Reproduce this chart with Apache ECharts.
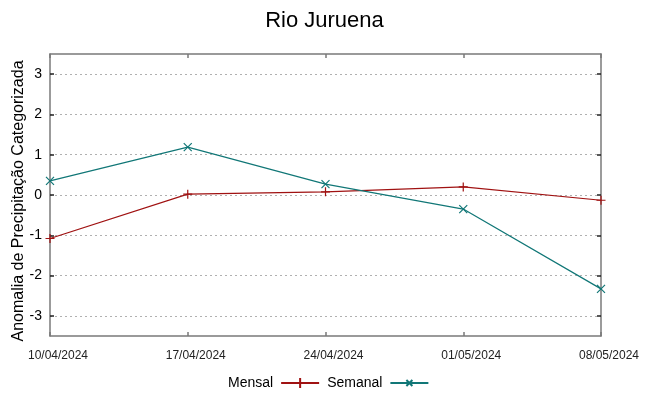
<!DOCTYPE html>
<html>
<head>
<meta charset="utf-8">
<script src="https://cdn.jsdelivr.net/npm/echarts@6/dist/echarts.min.js"></script>
<style>
html,body{margin:0;padding:0;background:#fff;}
#chart{width:649px;height:396px;}
</style>
</head>
<body>
<div id="chart"></div>
<script>
const categories = ['10/04/2024', '17/04/2024', '24/04/2024', '01/05/2024', '08/05/2024'];
const mensal = [-1.08, 0.02, 0.08, 0.20, -0.13];
const semanal = [0.35, 1.19, 0.27, -0.35, -2.33];
const yTicks = [-3, -2, -1, 0, 1, 2, 3];

const FONT = 'Liberation Sans, Arial, sans-serif';
const frameColor = '#7a7a7a';
const plusPath = 'path://M0,-5 L0,5 M-5,0 L5,0';
const crossPath = 'path://M-4,-4 L4,4 M-4,4 L4,-4';

const chart = echarts.init(document.getElementById('chart'), null, {renderer: 'canvas'});
const baseX = {
  type: 'category',
  data: categories,
  boundaryGap: false,
  axisLine: {show: true, onZero: false, lineStyle: {color: frameColor, width: 1.5}},
  axisTick: {show: true, inside: true, length: 4, lineStyle: {color: frameColor, width: 1.5}},
  splitLine: {show: false}
};
const baseY = {
  type: 'value',
  min: -3.5,
  max: 3.5,
  interval: 1,
  axisLine: {show: true, onZero: false, lineStyle: {color: frameColor, width: 1.5}},
  axisTick: {show: true, inside: true, length: 4, lineStyle: {color: '#222', width: 1.5},
    customValues: yTicks},
};
chart.setOption({
  animation: false,
  backgroundColor: '#fff',
  title: {
    text: 'Rio Juruena',
    left: 'center',
    top: 5,
    textStyle: {fontFamily: FONT, fontSize: 22, fontWeight: 'normal', color: '#000'}
  },
  grid: {left: 50, right: 48, top: 54, bottom: 60, containLabel: false, outerBoundsMode: 'none'},
  legend: {
    bottom: 1,
    left: 223,
    align: 'right',
    itemWidth: 38,
    itemHeight: 10,
    itemGap: 7,
    textStyle: {fontFamily: FONT, fontSize: 14, color: '#000', padding: [0, 3, 0, 0]},
    data: [
      {name: 'Mensal', icon: 'path://M0,5 L38,5 M19,0 L19,10'},
      {name: 'Semanal', icon: 'path://M0,5 L38,5 M16,2 L22,8 M16,8 L22,2'}
    ]
  },
  xAxis: [
    Object.assign({}, baseX, {
      position: 'bottom',
      axisLabel: {show: true, fontFamily: FONT, fontSize: 12, color: '#222', margin: 14,
        padding: [0, 0, 0, 16],
        showMinLabel: true, showMaxLabel: true, interval: 0}
    }),
    Object.assign({}, baseX, {
      position: 'top',
      axisLabel: {show: false}
    })
  ],
  yAxis: [
    Object.assign({}, baseY, {
      position: 'left',
      name: 'Anomalia de Precipitação Categorizada',
      nameLocation: 'middle',
      nameGap: 23,
      nameMoveOverlap: false,
      nameTextStyle: {fontFamily: FONT, fontSize: 16, color: '#000', padding: [0, 12, 0, 0]},
      axisLabel: {
        show: true, fontFamily: FONT, fontSize: 14, color: '#000', margin: 8,
        customValues: yTicks
      },
      splitLine: {show: true, lineStyle: {color: '#b0b0b0', type: [2, 3], width: 1}}
    }),
    Object.assign({}, baseY, {
      position: 'right',
      axisLabel: {show: false},
      splitLine: {show: false}
    })
  ],
  series: [
    {
      name: 'Mensal',
      type: 'line',
      data: mensal,
      symbol: plusPath,
      symbolSize: 9,
      showAllSymbol: true,
      lineStyle: {color: '#a01212', width: 1.2},
      itemStyle: {color: 'rgba(0,0,0,0)', borderColor: '#a01212', borderWidth: 1.2},
      z: 3
    },
    {
      name: 'Semanal',
      type: 'line',
      data: semanal,
      symbol: crossPath,
      symbolSize: 8,
      showAllSymbol: true,
      lineStyle: {color: '#117777', width: 1.2},
      itemStyle: {color: 'rgba(0,0,0,0)', borderColor: '#117777', borderWidth: 1.2},
      z: 4
    }
  ]
});
</script>
</body>
</html>
